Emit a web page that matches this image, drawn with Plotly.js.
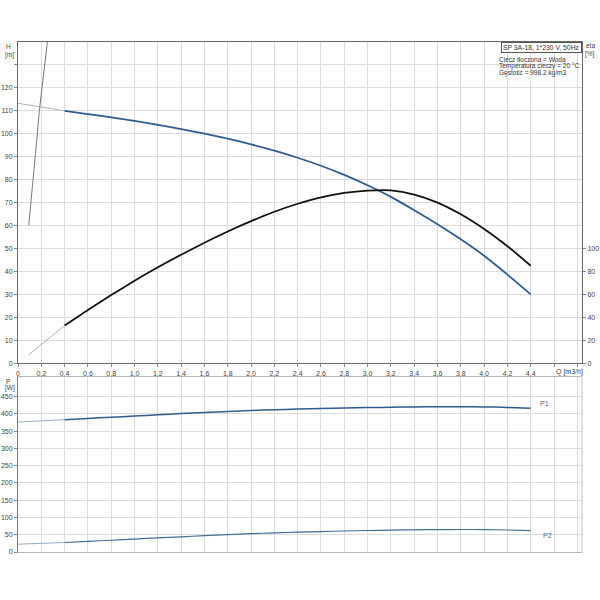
<!DOCTYPE html>
<html>
<head>
<meta charset="utf-8">
<script src="https://cdn.plot.ly/plotly-3.0.1.min.js"></script>
<style>html,body{margin:0;padding:0;background:#fff;}#chart{width:600px;height:600px;}</style>
</head>
<body>
<div id="chart"></div>
<script>
// ---- data ----
const qTicks = [0,0.2,0.4,0.6,0.8,1.0,1.2,1.4,1.6,1.8,2.0,2.2,2.4,2.6,2.8,3.0,3.2,3.4,3.6,3.8,4.0,4.2,4.4,4.6,4.8];
const qTickLabels = ["0","0,2","0,4","0,6","0,8","1,0","1,2","1,4","1,6","1,8","2,0","2,2","2,4","2,6","2,8","3,0","3,2","3,4","3,6","3,8","4,0","4,2","4,4","",""];
const hTicks = [0,10,20,30,40,50,60,70,80,90,100,110,120,130];
const hTickLabels = ["0","10","20","30","40","50","60","70","80","90","100","110","120",""];
const etaTicks = [0,20,40,60,80,100];
const pTicks = [0,50,100,150,200,250,300,350,400,450];

const qMain = [0.4,0.6,0.8,1.0,1.2,1.4,1.6,1.8,2.0,2.2,2.4,2.6,2.8,3.0,3.2,3.4,3.6,3.8,4.0,4.2,4.4];
const headMain = [110,108.6,107.15,105.6,103.9,102.05,100.05,97.85,95.4,92.65,89.55,86.05,82.05,77.55,72.5,66.7,60.6,54.0,46.8,38.6,30];
const qHeadExt = [0,0.2,0.4];
const headExt = [113.3,111.7,110];

const etaMain = [32.8,46.4,59.4,71.8,83.6,94.6,105,114.8,123.8,132,139,144.6,148.4,150.4,150.6,147,140,129.8,117,102,85];
const qEtaExt = [0.09,0.4];
const etaExt = [7.2,32.8];

const sysQ = [0.092,0.112,0.132,0.149,0.166,0.183,0.204,0.227,0.252];
const sysH = [60,70,80,90,100,110,120,130,140];

const qPower = [0,0.2,0.4,0.6,0.8,1.0,1.2,1.4,1.6,1.8,2.0,2.2,2.4,2.6,2.8,3.0,3.2,3.4,3.6,3.8,4.0,4.2,4.4];
const p1 = [376,380,383,386.5,390,393.5,397,400.5,404,407,409.5,411.7,413.7,415.4,416.8,418,419,419.8,420.3,420.4,420,418.5,416];
const p2 = [22.5,25,27.5,31,34,37.5,41,44,47.3,50.3,53,55.4,57.4,59.2,60.8,62.2,63.3,64.2,64.8,65.1,64.9,63.7,62];

const titleText = "SP 3A-18, 1*230 V, 50Hz";
const infoLines = ["Ciecz tłoczona = Woda","Temperatura cieczy = 20 °C","Gęstość = 998.2 kg/m3"];

// ---- styles ----
const F = "Liberation Sans, Arial, sans-serif";
const blue = "#2d5d8e";
const grid = "#dcdcdc";
const tf = {family:F, size:7, color:"#444"};

const traces = [
  {x:sysQ, y:sysH, xaxis:'x', yaxis:'y', mode:'lines', line:{color:'#777', width:1}, hoverinfo:'skip'},
  {x:qHeadExt, y:headExt, xaxis:'x', yaxis:'y', mode:'lines', line:{color:'#9a9a9a', width:0.8}, hoverinfo:'skip'},
  {x:qMain, y:headMain, xaxis:'x', yaxis:'y', mode:'lines', line:{color:blue, width:1.8, shape:'spline', smoothing:0.6}},
  {x:qEtaExt, y:etaExt, xaxis:'x', yaxis:'y2', mode:'lines', line:{color:'#9a9a9a', width:0.8}, hoverinfo:'skip'},
  {x:qMain, y:etaMain, xaxis:'x', yaxis:'y2', mode:'lines', line:{color:'#111', width:1.8, shape:'spline', smoothing:0.6}},
  {x:qPower.slice(0,3), y:p1.slice(0,3), xaxis:'x2', yaxis:'y3', mode:'lines', line:{color:'#8aa4bf', width:0.9}},
  {x:qPower.slice(2), y:p1.slice(2), xaxis:'x2', yaxis:'y3', mode:'lines', line:{color:blue, width:1.5, shape:'spline', smoothing:0.6}},
  {x:qPower.slice(0,3), y:p2.slice(0,3), xaxis:'x2', yaxis:'y3', mode:'lines', line:{color:'#8aa4bf', width:0.9}},
  {x:qPower.slice(2), y:p2.slice(2), xaxis:'x2', yaxis:'y3', mode:'lines', line:{color:'#3f6b96', width:1.2, shape:'spline', smoothing:0.6}}
];

const xRange = [0,4.84];
const layout = {
  width:600, height:600,
  margin:{l:18, r:18.3, t:42, b:48.3, pad:0},
  paper_bgcolor:'#fff', plot_bgcolor:'#fff',
  showlegend:false,
  font:tf,
  xaxis:{domain:[0,1], anchor:'y', range:xRange, tickmode:'array', tickvals:qTicks, ticktext:qTickLabels,
    showgrid:true, gridcolor:grid, gridwidth:1, zeroline:false, showline:true, linecolor:'#666', linewidth:1, mirror:true,
    ticks:'outside', ticklen:3, tickcolor:'#888', tickfont:tf},
  yaxis:{domain:[0.3702,1], anchor:'x', range:[0,140], tickmode:'array', tickvals:hTicks, ticktext:hTickLabels,
    showgrid:true, gridcolor:grid, gridwidth:1, zeroline:false, showline:true, linecolor:'#666', linewidth:1,
    ticks:'outside', ticklen:3, tickcolor:'#888', tickfont:tf},
  yaxis2:{overlaying:'y', anchor:'x', side:'right', range:[0,280], tickmode:'array', tickvals:etaTicks,
    showgrid:false, zeroline:false, showline:true, linecolor:'#666', linewidth:1,
    ticks:'outside', ticklen:3, tickcolor:'#888', tickfont:tf},
  xaxis2:{domain:[0,1], anchor:'y3', range:xRange, tickmode:'array', tickvals:qTicks, showticklabels:false,
    showgrid:true, gridcolor:grid, gridwidth:1, zeroline:false, showline:true, linecolor:'#b5b5b5', linewidth:1, mirror:true, ticks:''},
  yaxis3:{domain:[0,0.3428], anchor:'x2', range:[0,506], tickmode:'array', tickvals:pTicks,
    showgrid:true, gridcolor:grid, gridwidth:1, zeroline:false, showline:true, linecolor:'#777', linewidth:1,
    ticks:'outside', ticklen:3, tickcolor:'#888', tickfont:tf},
  shapes:[
    {type:'line', xref:'x2 domain', yref:'y3 domain', x0:1, x1:1, y0:0, y1:1, line:{color:'#c4c4c4', width:1}}
  ],
  annotations:[
    {text:'Q [m3/h]', xref:'x', yref:'y', x:4.6, y:0, xanchor:'left', yanchor:'top', yshift:-3, showarrow:false, font:tf},
    {text:'H', xref:'paper', yref:'y domain', x:0, y:1, xshift:-10, yshift:-4, xanchor:'center', yanchor:'middle', showarrow:false, font:{family:F,size:6.5,color:'#444'}},
    {text:'[m]', xref:'paper', yref:'y domain', x:0, y:1, xshift:-9, yshift:-13, xanchor:'center', yanchor:'middle', showarrow:false, font:{family:F,size:6.5,color:'#444'}},
    {text:'eta', xref:'paper', yref:'y domain', x:1, y:1, xshift:8, yshift:-3.7, xanchor:'center', yanchor:'middle', showarrow:false, font:{family:F,size:6.5,color:'#444'}},
    {text:'[%]', xref:'paper', yref:'y domain', x:1, y:1, xshift:8, yshift:-12, xanchor:'center', yanchor:'middle', showarrow:false, font:{family:F,size:6.5,color:'#444'}},
    {text:'P', xref:'paper', yref:'y3 domain', x:0, y:1, xshift:-10, yshift:-4.7, xanchor:'center', yanchor:'middle', showarrow:false, font:{family:F,size:6.5,color:'#444'}},
    {text:'[W]', xref:'paper', yref:'y3 domain', x:0, y:1, xshift:-8.5, yshift:-10.5, xanchor:'center', yanchor:'middle', showarrow:false, font:{family:F,size:6.5,color:'#444'}},
    {text:'P1', xref:'x2', yref:'y3', x:4.52, y:430, xanchor:'center', yanchor:'middle', showarrow:false, font:{family:F,size:7,color:'#4a6b8a'}},
    {text:'P2', xref:'x2', yref:'y3', x:4.54, y:46.4, xanchor:'center', yanchor:'middle', showarrow:false, font:{family:F,size:7,color:'#4a6b8a'}},
    {text:titleText, xref:'paper', yref:'paper', x:1, y:1, xanchor:'right', yanchor:'top', showarrow:false,
      bordercolor:'#555', borderwidth:1, borderpad:1, bgcolor:'#fff', font:{family:F,size:6.8,color:'#333'}},
    {text:infoLines[0], xref:'paper', yref:'paper', x:0.8497, y:1, yshift:-17, xanchor:'left', yanchor:'middle', showarrow:false, font:{family:F,size:6.5,color:'#333'}},
    {text:infoLines[1], xref:'paper', yref:'paper', x:0.8497, y:1, yshift:-24, xanchor:'left', yanchor:'middle', showarrow:false, font:{family:F,size:6.5,color:'#333'}},
    {text:infoLines[2], xref:'paper', yref:'paper', x:0.8497, y:1, yshift:-30.7, xanchor:'left', yanchor:'middle', showarrow:false, font:{family:F,size:6.5,color:'#333'}}
  ]
};

Plotly.newPlot('chart', traces, layout, {staticPlot:true, displayModeBar:false});
</script>
</body>
</html>
